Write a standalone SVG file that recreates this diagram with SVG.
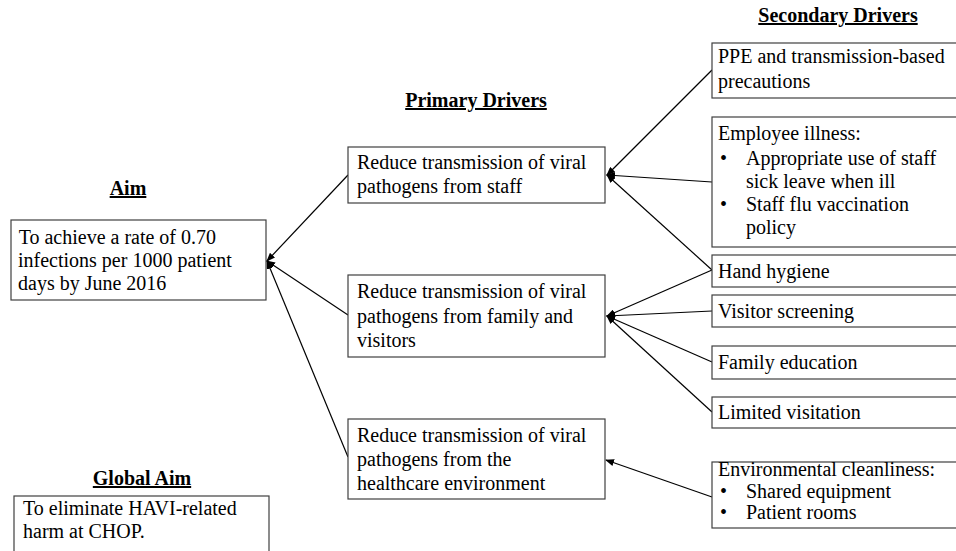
<svg xmlns="http://www.w3.org/2000/svg" width="956" height="551" viewBox="0 0 956 551">
<style>
text{font-family:"Liberation Serif","Times New Roman",serif;font-size:20px;fill:#000}
.h{font-weight:bold;text-decoration:underline;text-anchor:middle}
.box{fill:#fff;stroke:#404040;stroke-width:1.2}
.c line{stroke:#000;stroke-width:1.2;marker-end:url(#ah)}
</style>
<defs>
<marker id="ah" markerUnits="userSpaceOnUse" markerWidth="9" markerHeight="7" refX="8" refY="3.5" orient="auto">
<path d="M0,0 L9,3.5 L0,7 z" fill="#000"/>
</marker>
</defs>
<rect width="956" height="551" fill="#fff"/>

<g id="headings">
<text class="h" x="128" y="195">Aim</text>
<text class="h" x="476" y="107">Primary Drivers</text>
<text class="h" x="838" y="22">Secondary Drivers</text>
<text class="h" x="142" y="485">Global Aim</text>
</g>

<g class="c" id="connectors">
<line x1="348" y1="175" x2="267" y2="261"/>
<line x1="348" y1="315" x2="267" y2="261"/>
<line x1="348" y1="457" x2="267" y2="261"/>
<line x1="712" y1="70" x2="607" y2="175"/>
<line x1="712" y1="182" x2="607" y2="175"/>
<line x1="712" y1="270" x2="607" y2="175"/>
<line x1="712" y1="270" x2="607" y2="316"/>
<line x1="712" y1="311" x2="607" y2="316"/>
<line x1="712" y1="362" x2="607" y2="316"/>
<line x1="712" y1="412" x2="607" y2="316"/>
<line x1="712" y1="497" x2="606" y2="460"/>
</g>

<g id="aim">
<rect class="box" x="11" y="220" width="255" height="80"/>
<text x="14" y="244" xml:space="preserve"> To achieve a rate of 0.70</text>
<text x="18" y="267">infections per 1000 patient</text>
<text x="18" y="290">days by June 2016</text>
</g>

<g id="global-aim">
<rect class="box" x="14" y="496" width="255" height="70"/>
<text x="23" y="515">To eliminate HAVI-related</text>
<text x="23" y="538">harm at CHOP.</text>
</g>

<g id="primary-staff">
<rect class="box" x="348" y="147" width="257" height="56"/>
<text x="357" y="169">Reduce transmission of viral</text>
<text x="357" y="193">pathogens from staff</text>
</g>

<g id="primary-family">
<rect class="box" x="348" y="275" width="257" height="82"/>
<text x="357" y="298">Reduce transmission of viral</text>
<text x="357" y="323">pathogens from family and</text>
<text x="357" y="347">visitors</text>
</g>

<g id="primary-environment">
<rect class="box" x="348" y="419" width="257" height="80"/>
<text x="357" y="442">Reduce transmission of viral</text>
<text x="357" y="466">pathogens from the</text>
<text x="357" y="490">healthcare environment</text>
</g>

<g id="sec-ppe">
<rect class="box" x="712" y="43" width="250" height="55"/>
<text x="718" y="63">PPE and transmission-based</text>
<text x="718" y="88">precautions</text>
</g>

<g id="sec-employee">
<rect class="box" x="712" y="117" width="250" height="130"/>
<text x="718" y="140">Employee illness:</text>
<text x="720" y="165">•</text>
<text x="746" y="165">Appropriate use of staff</text>
<text x="746" y="188">sick leave when ill</text>
<text x="720" y="211">•</text>
<text x="746" y="211">Staff flu vaccination</text>
<text x="746" y="234">policy</text>
</g>

<g id="sec-hand">
<rect class="box" x="712" y="255" width="250" height="32"/>
<text x="718" y="278">Hand hygiene</text>
</g>

<g id="sec-visitor">
<rect class="box" x="712" y="295" width="250" height="32"/>
<text x="718" y="318">Visitor screening</text>
</g>

<g id="sec-family">
<rect class="box" x="712" y="346" width="250" height="33"/>
<text x="718" y="369">Family education</text>
</g>

<g id="sec-limited">
<rect class="box" x="712" y="397" width="250" height="31"/>
<text x="718" y="419">Limited visitation</text>
</g>

<g id="sec-environment">
<rect class="box" x="712" y="462" width="250" height="66"/>
<text x="718" y="476">Environmental cleanliness:</text>
<text x="720" y="498">•</text>
<text x="746" y="498">Shared equipment</text>
<text x="720" y="519">•</text>
<text x="746" y="519">Patient rooms</text>
</g>
</svg>
